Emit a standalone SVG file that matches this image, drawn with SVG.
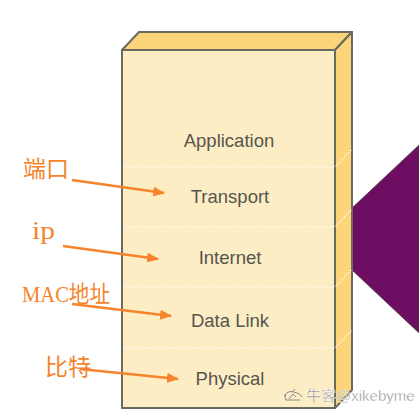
<svg xmlns="http://www.w3.org/2000/svg" width="419" height="413" viewBox="0 0 419 413">
<style>
.layer{font-family:"Liberation Sans",Arial,sans-serif;font-size:18.5px;fill:#55554f;text-anchor:middle}
.lbl{font-family:"Liberation Serif","Noto Sans CJK SC",serif;font-size:23px;fill:#f5842c}
.div{stroke:#ffffff;stroke-width:1.2;stroke-dasharray:1.5 1.5;fill:none}
.edge{stroke:#6b6a60;stroke-width:2;stroke-linejoin:round}
.arr{stroke:#f5842c;stroke-width:2.6;fill:none;marker-end:url(#ah)}
.wm{font-family:"Liberation Sans","Noto Sans CJK SC",sans-serif;font-size:15px;fill:#8a8a8a;stroke:#ffffff;stroke-width:0.4}
</style>
<defs>
<marker id="ah" viewBox="0 0 12 10" refX="11" refY="5" markerWidth="12" markerHeight="10" markerUnits="userSpaceOnUse" orient="auto">
<path d="M0,0 L12,5 L0,10 Z" fill="#f5842c"/>
</marker>
</defs>
<rect width="419" height="413" fill="#ffffff"/>
<g id="wedge">
<polygon points="352,208 419,145 419,333 352,270" fill="#6e0e62" stroke="#4e4a40" stroke-width="0.8"/>
</g>
<g id="stack">
<polygon class="edge" points="122,50 139,32 352,32 335,50" fill="#fcd57a"/>
<polygon class="edge" points="335,50 352,32 352,390 335,408" fill="#fcd57a"/>
<rect class="edge" x="122" y="50" width="213" height="358" fill="#fdedc4"/>
<path class="div" d="M123,167 H335 L352,149 M123,227 H335 L352,209 M123,287 H335 L352,269 M123,348 H335 L352,330"/>
</g>
<g id="application"><text class="layer" x="229" y="147">Application</text></g>
<g id="transport"><text class="layer" x="230" y="203">Transport</text></g>
<g id="internet"><text class="layer" x="230" y="264">Internet</text></g>
<g id="datalink"><text class="layer" x="230" y="327">Data Link</text></g>
<g id="physical"><text class="layer" x="230" y="385">Physical</text></g>
<g id="label-port"><text class="lbl" x="23" y="177">端口</text></g>
<g id="label-ip"><text class="lbl" x="32" y="239" style="font-size:26px" textLength="23" lengthAdjust="spacingAndGlyphs">ip</text></g>
<g id="label-mac"><text class="lbl" x="22" y="302" textLength="88" lengthAdjust="spacingAndGlyphs">MAC地址</text></g>
<g id="label-bit"><text class="lbl" x="45" y="375">比特</text></g>
<g id="connectors">
<line class="arr" x1="72" y1="180" x2="164" y2="193"/>
<line class="arr" x1="63" y1="246" x2="158" y2="259"/>
<line class="arr" x1="72" y1="304" x2="171" y2="316"/>
<line class="arr" x1="80" y1="369" x2="178" y2="379"/>
</g>
<g id="watermark">
<path d="M284,396 q4,-6 10,-4 q6,1 8,5 M286,394 q-2,3 0,6 h14 M289,399 l4,-5 l3,3 M292,392 l3,-3" stroke="#8a8a8a" stroke-width="1" fill="none"/>
<text class="wm" x="306" y="401">牛客@xikebyme</text>
</g>
</svg>
